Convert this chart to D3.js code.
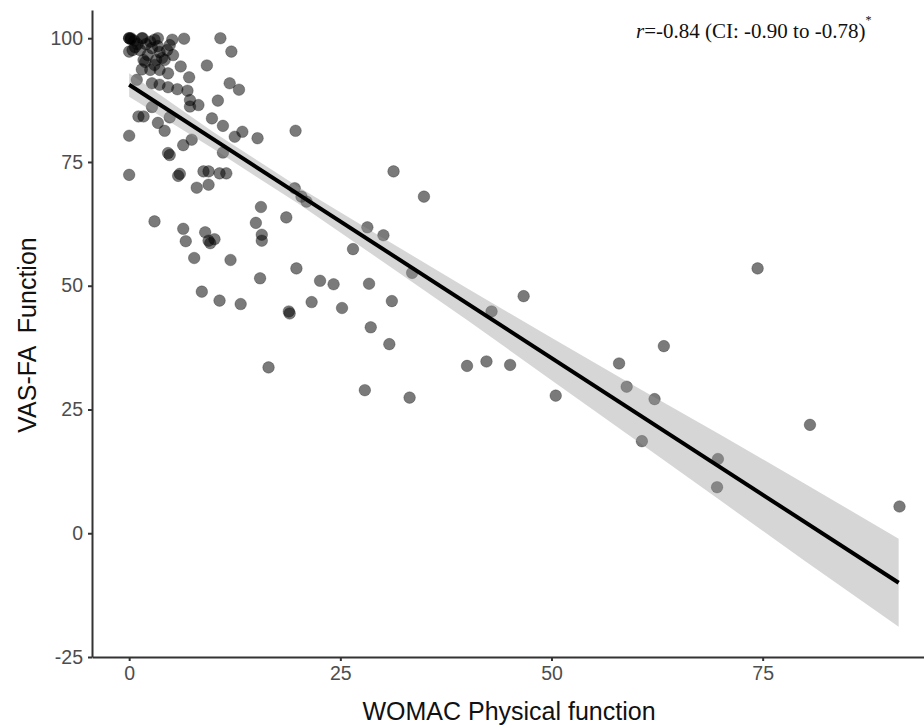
<!DOCTYPE html>
<html lang="en">
<head>
  <meta charset="UTF-8">
  <title>VAS-FA Function vs WOMAC Physical function</title>
  <style>
    body { margin: 0; background: #fff; }
    .tick text { font-family: "Liberation Sans", Arial, sans-serif; font-size: 19.5px; fill: #4d4d4d; }
    .axis-title { font-family: "Liberation Sans", Arial, sans-serif; font-size: 25px; fill: #111; white-space: pre; }
    .note { font-family: "Liberation Serif", "Times New Roman", serif; font-size: 21px; fill: #111; }
  </style>
</head>
<body>
  <div id="chart"></div>
  <script src="https://d3js.org/d3.v7.min.js"></script>
  <script>
    // WOMAC Physical function (x) and VAS-FA Function (y)
    const womac = [
      0, 0, 0.2, 1.6, 3.4, 5.1, 6.5, 10.8, 12.1, 0, 5.2, 1.7, 3.2, 9.2, 6.1, 1.5, 3.6, 4.6, 7.1, 11.9,
      13.0, 0.9, 2.7, 3.6, 4.6, 5.7, 6.9, 10.5, 7.2, 8.2, 2.7, 1.1, 1.7, 3.4, 4.2, 4.8, 9.8, 11.1, 0, 6.4,
      7.4, 12.5, 13.4, 15.2, 4.6, 4.8, 11.1, 7.2, 0.4,
      0.2, 0.6, 1.0, 1.5, 2.0, 2.5, 2.7, 3.0, 3.4, 3.6, 3.9, 2.2, 1.3, 0.7, 1.9, 3.0, 4.2, 2.5, 4.5, 4.8,
      0, 5.8, 6.0, 8.8, 9.4, 10.7, 11.5, 8.0, 9.4, 15.6, 15.0, 18.6, 3.0, 6.4, 6.7, 9.0, 9.4, 9.6, 10.1, 15.7,
      15.7, 7.7, 12.0, 15.5, 8.6, 10.7, 13.2, 18.9, 19.0,
      19.7, 31.3, 34.9, 19.6, 20.4, 21.0, 28.2, 30.1, 26.5, 33.5, 19.8, 22.6, 24.2, 28.4, 31.1, 21.6, 25.2,
      42.9, 46.7, 28.6, 30.8, 16.5, 40.0, 42.3, 45.1, 27.9, 33.2,
      50.5, 58.0, 63.3, 58.9, 62.2, 60.7, 69.7, 69.6, 74.4, 80.6, 91.2
    ];
    const vasfa = [
      100, 100, 99.8, 100, 100, 99.7, 99.9, 100, 97.3, 97.3, 96.6, 95.6, 95.6, 94.5, 94.3, 93.7, 93.6, 92.9, 92.1, 90.9,
      89.6, 91.6, 90.9, 90.6, 90.1, 89.7, 89.4, 87.4, 86.2, 86.5, 86.1, 84.2, 84.2, 82.9, 81.3, 84.0, 83.8, 82.3, 80.3, 78.4,
      79.5, 80.1, 81.1, 79.8, 76.8, 76.4, 76.9, 87.5, 97.6,
      100, 99.5, 98.8, 100, 98.8, 99.3, 98.0, 99.7, 98.4, 97.2, 96.0, 96.6, 97.6, 98.2, 95.2, 94.6, 95.6, 93.6, 97.6, 98.6,
      72.4, 72.2, 72.6, 73.1, 73.1, 72.7, 72.7, 69.8, 70.4, 65.9, 62.7, 63.8, 63.0, 61.5, 59.0, 60.8, 59.1, 58.6, 59.4, 60.3,
      59.1, 55.6, 55.2, 51.5, 48.8, 47.0, 46.3, 44.8, 44.4,
      81.3, 73.1, 68.0, 69.7, 68.0, 67.0, 61.8, 60.2, 57.4, 52.6, 53.5, 51.0, 50.3, 50.4, 46.9, 46.7, 45.5,
      44.8, 47.9, 41.6, 38.2, 33.5, 33.8, 34.7, 34.0, 28.9, 27.4,
      27.8, 34.3, 37.8, 29.6, 27.1, 18.6, 15.0, 9.3, 53.5, 21.9, 5.4
    ];

    // fitted line and its confidence band
    const fitX = [0, 91.1];
    const fitY = [90.6, -10.0];
    const bandX = [0, 10, 20, 30, 40, 50, 60, 70, 80, 91.1];
    const bandHi = [92.9, 81.0, 70.0, 59.7, 49.5, 39.5, 29.6, 19.9, 10.0, -1.1];
    const bandLo = [88.2, 77.6, 66.6, 54.9, 43.1, 30.9, 18.8, 6.6, -5.6, -18.9];

    const xTicks = [0, 25, 50, 75];
    const yTicks = [-25, 0, 25, 50, 75, 100];

    const width = 924;
    const height = 726;
    const margin = { top: 10, right: 0, bottom: 69, left: 92 };

    const svg = d3.select('#chart')
      .append('svg')
      .attr('width', width)
      .attr('height', height);

    const xScale = d3.scaleLinear()
      .domain([-4.4, 94.1])
      .range([margin.left, width - margin.right]);

    const yScale = d3.scaleLinear()
      .domain([-25, 105.7])
      .range([height - margin.bottom, margin.top]);

    const points = womac.map((x, i) => ({ x: x, y: vasfa[i] }));

    svg.append('g')
      .selectAll('circle')
      .data(points)
      .enter()
      .append('circle')
      .attr('cx', d => xScale(d.x))
      .attr('cy', d => yScale(d.y))
      .attr('r', 5.8)
      .attr('fill', '#000')
      .attr('fill-opacity', 0.52)
      .attr('stroke', '#000')
      .attr('stroke-opacity', 0.25)
      .attr('stroke-width', 1);

    const band = bandX.map((x, i) => ({ x: x, lo: bandLo[i], hi: bandHi[i] }));

    svg.append('path')
      .datum(band)
      .attr('fill', '#999')
      .attr('fill-opacity', 0.4)
      .attr('d', d3.area()
        .x(d => xScale(d.x))
        .y0(d => yScale(d.lo))
        .y1(d => yScale(d.hi)));

    svg.append('path')
      .datum(fitX.map((x, i) => ({ x: x, y: fitY[i] })))
      .attr('fill', 'none')
      .attr('stroke', '#000')
      .attr('stroke-width', 4)
      .attr('d', d3.line()
        .x(d => xScale(d.x))
        .y(d => yScale(d.y)));

    const fmt = d => String(d);

    const xAxis = svg.append('g')
      .attr('transform', `translate(0, ${height - margin.bottom})`)
      .call(d3.axisBottom(xScale).tickValues(xTicks).tickFormat(fmt).tickSize(4).tickSizeOuter(0).tickPadding(5));

    const yAxis = svg.append('g')
      .attr('transform', `translate(${margin.left}, 0)`)
      .call(d3.axisLeft(yScale).tickValues(yTicks).tickFormat(fmt).tickSize(4).tickSizeOuter(0).tickPadding(5));

    [xAxis, yAxis].forEach(ax => {
      ax.select('.domain').attr('stroke', '#333').attr('stroke-width', 2);
      ax.selectAll('.tick line').attr('stroke', '#333').attr('stroke-width', 2);
    });

    svg.append('text')
      .attr('class', 'axis-title')
      .attr('x', 509)
      .attr('y', 720)
      .attr('text-anchor', 'middle')
      .text('WOMAC Physical function');

    svg.append('text')
      .attr('class', 'axis-title')
      .attr('transform', 'rotate(-90)')
      .attr('x', -335)
      .attr('y', 36)
      .attr('text-anchor', 'middle')
      .text('VAS-FA  Function');

    const note = svg.append('text')
      .attr('class', 'note')
      .attr('x', 636)
      .attr('y', 38);
    note.append('tspan').attr('font-style', 'italic').text('r');
    note.append('tspan').text('=-0.84 (CI: -0.90 to -0.78)');
    note.append('tspan').attr('font-size', '12px').attr('dy', -14).text('*');
  </script>
</body>
</html>
